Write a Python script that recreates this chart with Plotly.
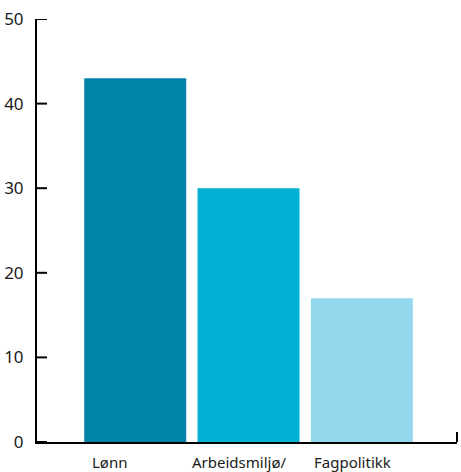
import plotly.graph_objects as go

categories = ["Lønn", "Arbeidsmiljø/", "Fagpolitikk"]
values = [43, 30, 17]
colors = ["#0083a9", "#00b0d2", "#93d8ec"]
y_ticks = [0, 10, 20, 30, 40, 50]
label_shifts = [-26, -10, -9]

FONT = "Noto Sans, Open Sans, sans-serif"
PLOT_W = 461 - 37 - 4
PLOT_H = 472 - 19 - 30
TICK_LEN = 10

fig = go.Figure(
    go.Bar(
        x=categories,
        y=values,
        marker=dict(color=colors, line=dict(width=0)),
        width=0.9,
    )
)

fig.update_layout(
    template="none",
    width=461,
    height=472,
    margin=dict(l=37, r=4, t=19, b=30),
    paper_bgcolor="white",
    plot_bgcolor="white",
    showlegend=False,
    font=dict(family=FONT, color="#1a1a1a"),
)

fig.update_xaxes(
    range=[-0.867, 2.84],
    showline=True,
    linecolor="black",
    linewidth=2,
    ticks="",
    showticklabels=False,
    showgrid=False,
    zeroline=False,
)
fig.update_yaxes(
    range=[0, 50],
    tickmode="array",
    tickvals=y_ticks,
    showline=True,
    linecolor="black",
    linewidth=2,
    ticks="",
    ticklabelstandoff=8,
    showgrid=False,
    zeroline=False,
    tickfont=dict(size=17, family=FONT, color="#1a1a1a"),
)

# inside tick marks on the y axis (drawn at the tick values)
for t in y_ticks:
    fig.add_shape(
        type="line",
        xref="paper",
        yref="y",
        x0=0,
        x1=TICK_LEN / PLOT_W,
        y0=t,
        y1=t,
        line=dict(color="black", width=2),
        layer="above",
    )

for cat, shift in zip(categories, label_shifts):
    fig.add_annotation(
        x=cat,
        y=0,
        xref="x",
        yref="y",
        text=cat,
        showarrow=False,
        xanchor="center",
        yanchor="middle",
        xshift=shift,
        yshift=-20,
        font=dict(size=15, family=FONT, color="#1a1a1a"),
    )

# end tick on the right of the x axis
fig.add_shape(
    type="line",
    xref="paper",
    yref="paper",
    x0=1,
    x1=1,
    y0=0,
    y1=TICK_LEN / PLOT_H,
    line=dict(color="black", width=2),
    layer="above",
)

fig.write_html("out.html")
